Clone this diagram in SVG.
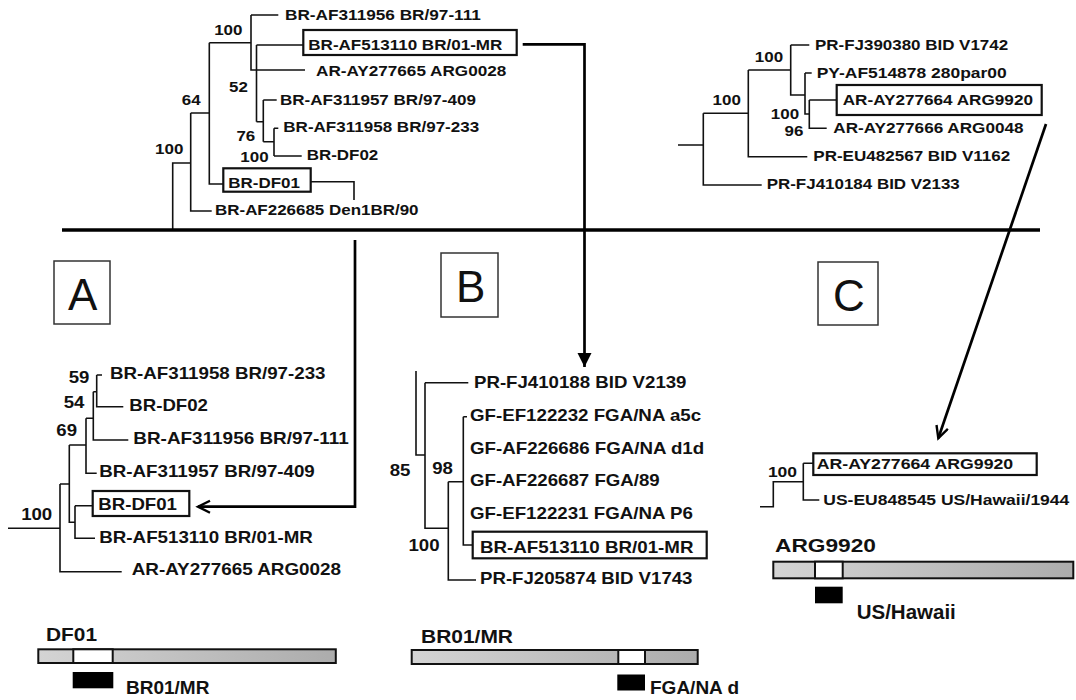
<svg xmlns="http://www.w3.org/2000/svg" width="1076" height="700" viewBox="0 0 1076 700">
<style>
.t{font-family:"Liberation Sans",Arial,sans-serif;font-weight:bold;font-size:15px;fill:#111}
.ta{font-family:"Liberation Sans",Arial,sans-serif;font-weight:bold;font-size:16.5px;fill:#111}
.tc{font-family:"Liberation Sans",Arial,sans-serif;font-weight:bold;font-size:15.5px;fill:#111}
.n{text-anchor:middle}
.ttl{font-family:"Liberation Sans",Arial,sans-serif;font-weight:bold;font-size:19px;fill:#111}
.lb{font-family:"Liberation Sans",Arial,sans-serif;font-weight:bold;font-size:19px;fill:#111}
.big{font-family:"Liberation Sans",Arial,sans-serif;font-size:44px;fill:#111;text-anchor:middle}
.ln{fill:none;stroke:#111;stroke-width:1.6}
.box{fill:none;stroke:#111;stroke-width:2.2}
.lbox{fill:#fff;stroke:#333;stroke-width:1.5}
.bar{fill:url(#g);stroke:#111;stroke-width:2}
.wh{fill:#fff;stroke:#111;stroke-width:2}
.blk{fill:#000}
.cn{fill:none;stroke:#000;stroke-width:2.7}
</style>
<defs>
<linearGradient id="g" x1="0" y1="0" x2="1" y2="0">
<stop offset="0" stop-color="#d4d4d4"/>
<stop offset="1" stop-color="#acacac"/>
</linearGradient>
<marker id="fa" markerUnits="userSpaceOnUse" markerWidth="14" markerHeight="16" refX="14" refY="7" orient="auto">
<path d="M0,0 L14,7 L0,14 Z" fill="#000"/>
</marker>
<marker id="oa" markerUnits="userSpaceOnUse" markerWidth="16" markerHeight="16" refX="13" refY="7" orient="auto">
<path d="M1,1 L13,7 L1,13" fill="none" stroke="#000" stroke-width="2.4"/>
</marker>
</defs>
<rect width="1076" height="700" fill="#fff"/>

<g id="tree-top-left">
<path class="ln" d="M172.7,229 V163 H190.7 M190.7,113 V211 H211.7 M190.7,113 H209.3 M209.3,42.7 V184 H223.3 M209.3,42.7 H251 M251,15 V70 H305 M251,15 H278.3 M256.5,45 V121.7 M256.5,45 H303.3 M256.5,121.7 H263.3 M263.3,100 V141.7 M263.3,100 H276.7 M263.3,141.7 H274 M274,128.3 V156 M274,128.3 H278.3 M274,156 H301.7 M310.7,181.7 H354 V200"/>
<rect class="box" x="303.3" y="30" width="213.4" height="25"/>
<rect class="box" x="223.3" y="168.3" width="87.4" height="23.4"/>
<text class="t" x="285" y="20.4" textLength="195.9" lengthAdjust="spacingAndGlyphs">BR-AF311956 BR/97-111</text>
<text class="t" x="308.3" y="49.7" textLength="194" lengthAdjust="spacingAndGlyphs">BR-AF513110 BR/01-MR</text>
<text class="t" x="316" y="76.4" textLength="190.3" lengthAdjust="spacingAndGlyphs">AR-AY277665 ARG0028</text>
<text class="t" x="280" y="104.7" textLength="195.9" lengthAdjust="spacingAndGlyphs">BR-AF311957 BR/97-409</text>
<text class="t" x="283.3" y="132.1" textLength="195.9" lengthAdjust="spacingAndGlyphs">BR-AF311958 BR/97-233</text>
<text class="t" x="306.7" y="160.4" textLength="71.6" lengthAdjust="spacingAndGlyphs">BR-DF02</text>
<text class="t" x="228.3" y="188.1" textLength="71.6" lengthAdjust="spacingAndGlyphs">BR-DF01</text>
<text class="t" x="215" y="215.4" textLength="203.5" lengthAdjust="spacingAndGlyphs">BR-AF226685 Den1BR/90</text>
<text class="t n" x="228.3" y="35.4" textLength="28.3" lengthAdjust="spacingAndGlyphs">100</text>
<text class="t n" x="238.5" y="92" textLength="18.8" lengthAdjust="spacingAndGlyphs">52</text>
<text class="t n" x="191.2" y="105.4" textLength="18.8" lengthAdjust="spacingAndGlyphs">64</text>
<text class="t n" x="169.2" y="154.4" textLength="28.3" lengthAdjust="spacingAndGlyphs">100</text>
<text class="t n" x="245.8" y="141.4" textLength="18.8" lengthAdjust="spacingAndGlyphs">76</text>
<text class="t n" x="254.5" y="162" textLength="28.3" lengthAdjust="spacingAndGlyphs">100</text>
</g>

<g id="tree-top-right">
<path class="ln" d="M678,145 H703.3 M703.3,113.3 V185 H761.7 M703.3,113.3 H748.3 M748.3,70 V156.7 H807.3 M748.3,70 H790.7 M790.7,45 V95 H805 M790.7,45 H809.3 M805,73 V114 H809.3 M805,73 H811.7 M809.3,100 V128.3 H826.7 M809.3,100 H836.7"/>
<rect class="box" x="836.7" y="85" width="205" height="30"/>
<text class="t" x="815" y="50.4" textLength="193.1" lengthAdjust="spacingAndGlyphs">PR-FJ390380 BID V1742</text>
<text class="t" x="816.7" y="78.1" textLength="190" lengthAdjust="spacingAndGlyphs">PY-AF514878 280par00</text>
<text class="t" x="842.7" y="105.4" textLength="190.3" lengthAdjust="spacingAndGlyphs">AR-AY277664 ARG9920</text>
<text class="t" x="833.3" y="133.1" textLength="190.3" lengthAdjust="spacingAndGlyphs">AR-AY277666 ARG0048</text>
<text class="t" x="813.3" y="161.4" textLength="196.9" lengthAdjust="spacingAndGlyphs">PR-EU482567 BID V1162</text>
<text class="t" x="766.7" y="189.4" textLength="193.1" lengthAdjust="spacingAndGlyphs">PR-FJ410184 BID V2133</text>
<text class="t n" x="769" y="62" textLength="28.3" lengthAdjust="spacingAndGlyphs">100</text>
<text class="t n" x="726.7" y="105.4" textLength="28.3" lengthAdjust="spacingAndGlyphs">100</text>
<text class="t n" x="785" y="119.4" textLength="28.3" lengthAdjust="spacingAndGlyphs">100</text>
<text class="t n" x="794" y="136.4" textLength="18.8" lengthAdjust="spacingAndGlyphs">96</text>
</g>

<g id="divider">
<path d="M62,230 H1040" stroke="#000" stroke-width="3.5"/>
</g>

<g id="label-A">
<rect class="lbox" x="54" y="261" width="56" height="63"/>
<text class="big" x="82.7" y="309.8">A</text>
</g>
<g id="label-B">
<rect class="lbox" x="441" y="253" width="57" height="64"/>
<text class="big" x="470.7" y="301.6">B</text>
</g>
<g id="label-C">
<rect class="lbox" x="818" y="262" width="60" height="63"/>
<text class="big" x="849" y="310.8">C</text>
</g>

<g id="tree-A">
<path class="ln" d="M8,528.3 H60 M60,484 V571.7 H121.7 M60,484 H69.3 M69.3,445 V522.3 H75 M75,505.7 V538.3 H95 M75,505.7 H92.7 M69.3,445 H86 M86,418.3 V473.3 H96.7 M86,418.3 H93.3 M93.3,391.7 V440 H128.3 M93.3,391.7 H96.7 M96.7,375 V406.7 H123.3 M96.7,375 H102"/>
<rect class="box" x="92.7" y="491" width="96.6" height="25"/>
<text class="ta" x="110" y="379.2" textLength="215.5" lengthAdjust="spacingAndGlyphs">BR-AF311958 BR/97-233</text>
<text class="ta" x="129.3" y="410.9" textLength="78.7" lengthAdjust="spacingAndGlyphs">BR-DF02</text>
<text class="ta" x="133.3" y="444.2" textLength="215.5" lengthAdjust="spacingAndGlyphs">BR-AF311956 BR/97-111</text>
<text class="ta" x="99.3" y="476.9" textLength="215.5" lengthAdjust="spacingAndGlyphs">BR-AF311957 BR/97-409</text>
<text class="ta" x="98.3" y="510.2" textLength="78.7" lengthAdjust="spacingAndGlyphs">BR-DF01</text>
<text class="ta" x="99.3" y="542.6" textLength="213.5" lengthAdjust="spacingAndGlyphs">BR-AF513110 BR/01-MR</text>
<text class="ta" x="131.7" y="575.2" textLength="209.4" lengthAdjust="spacingAndGlyphs">AR-AY277665 ARG0028</text>
<text class="ta n" x="79" y="382.6" textLength="20.7" lengthAdjust="spacingAndGlyphs">59</text>
<text class="ta n" x="74" y="407.6" textLength="20.7" lengthAdjust="spacingAndGlyphs">54</text>
<text class="ta n" x="66.7" y="435.9" textLength="20.7" lengthAdjust="spacingAndGlyphs">69</text>
<text class="ta n" x="36.7" y="519.9" textLength="31.1" lengthAdjust="spacingAndGlyphs">100</text>
</g>

<g id="tree-B">
<path class="ln" d="M416,371 V455 H425 M425,382.7 V528.3 H448.3 M425,382.7 H468.3 M448.3,481.7 V580 H476 M448.3,481.7 H463.3 M463.3,416.7 V545 H472.7 M463.3,416.7 H467"/>
<rect class="box" x="472.7" y="531.7" width="234" height="26.6"/>
<text class="ta" x="474" y="387.6" textLength="212.5" lengthAdjust="spacingAndGlyphs">PR-FJ410188 BID V2139</text>
<text class="ta" x="470" y="420.9" textLength="231.1" lengthAdjust="spacingAndGlyphs">GF-EF122232 FGA/NA a5c</text>
<text class="ta" x="470" y="454.2" textLength="234.2" lengthAdjust="spacingAndGlyphs">GF-AF226686 FGA/NA d1d</text>
<text class="ta" x="470" y="485.9" textLength="189.7" lengthAdjust="spacingAndGlyphs">GF-AF226687 FGA/89</text>
<text class="ta" x="470" y="519.2" textLength="222.8" lengthAdjust="spacingAndGlyphs">GF-EF122231 FGA/NA P6</text>
<text class="ta" x="480" y="552.6" textLength="213.5" lengthAdjust="spacingAndGlyphs">BR-AF513110 BR/01-MR</text>
<text class="ta" x="480" y="584.2" textLength="212.5" lengthAdjust="spacingAndGlyphs">PR-FJ205874 BID V1743</text>
<text class="ta n" x="400" y="475.9" textLength="20.7" lengthAdjust="spacingAndGlyphs">85</text>
<text class="ta n" x="442.5" y="474.2" textLength="20.7" lengthAdjust="spacingAndGlyphs">98</text>
<text class="ta n" x="424" y="550.9" textLength="31.1" lengthAdjust="spacingAndGlyphs">100</text>
</g>

<g id="tree-C">
<path class="ln" d="M760,506.7 H773.3 V481.7 H803.3 M803.3,463.3 V500 H819.3 M803.3,463.3 H813.3"/>
<rect class="box" x="813.3" y="453.3" width="223.4" height="21.7"/>
<text class="tc" x="816.7" y="468.8" textLength="196.5" lengthAdjust="spacingAndGlyphs">AR-AY277664 ARG9920</text>
<text class="tc" x="823.3" y="504.8" textLength="246" lengthAdjust="spacingAndGlyphs">US-EU848545 US/Hawaii/1944</text>
<text class="tc n" x="782.5" y="477.2" textLength="29.2" lengthAdjust="spacingAndGlyphs">100</text>
</g>

<g id="genome-DF01">
<text class="ttl" x="46" y="641" textLength="51" lengthAdjust="spacingAndGlyphs">DF01</text>
<rect class="bar" x="38.3" y="649.3" width="297.5" height="13.7"/>
<rect class="wh" x="73.3" y="649.3" width="39.4" height="13.7"/>
<rect class="blk" x="72.7" y="672" width="40.6" height="16.3"/>
<text class="lb" x="126" y="694">BR01/MR</text>
</g>

<g id="genome-BR01MR">
<text class="ttl" x="421" y="643" textLength="92" lengthAdjust="spacingAndGlyphs">BR01/MR</text>
<rect class="bar" x="411.7" y="650" width="286" height="14"/>
<rect class="wh" x="618.3" y="650" width="26.7" height="14"/>
<rect class="blk" x="617.3" y="674.5" width="27.7" height="16"/>
<text class="lb" x="650" y="694">FGA/NA d</text>
</g>

<g id="genome-ARG9920">
<text class="ttl" x="775" y="551.7" textLength="101" lengthAdjust="spacingAndGlyphs">ARG9920</text>
<rect class="bar" x="773.3" y="561.7" width="300" height="16.6"/>
<rect class="wh" x="815" y="561.7" width="27.7" height="16.6"/>
<rect class="blk" x="815" y="586.7" width="27.7" height="16.6"/>
<text class="lb" x="856.7" y="619" style="font-size:20.5px">US/Hawaii</text>
</g>

<g id="connectors">
<path class="cn" d="M355,240 V506.7 H198" marker-end="url(#oa)"/>
<path class="cn" d="M522.7,44.3 H584.5 V367" marker-end="url(#fa)"/>
<path class="cn" d="M1046,124 L938.3,438.3" marker-end="url(#oa)"/>
</g>
</svg>
